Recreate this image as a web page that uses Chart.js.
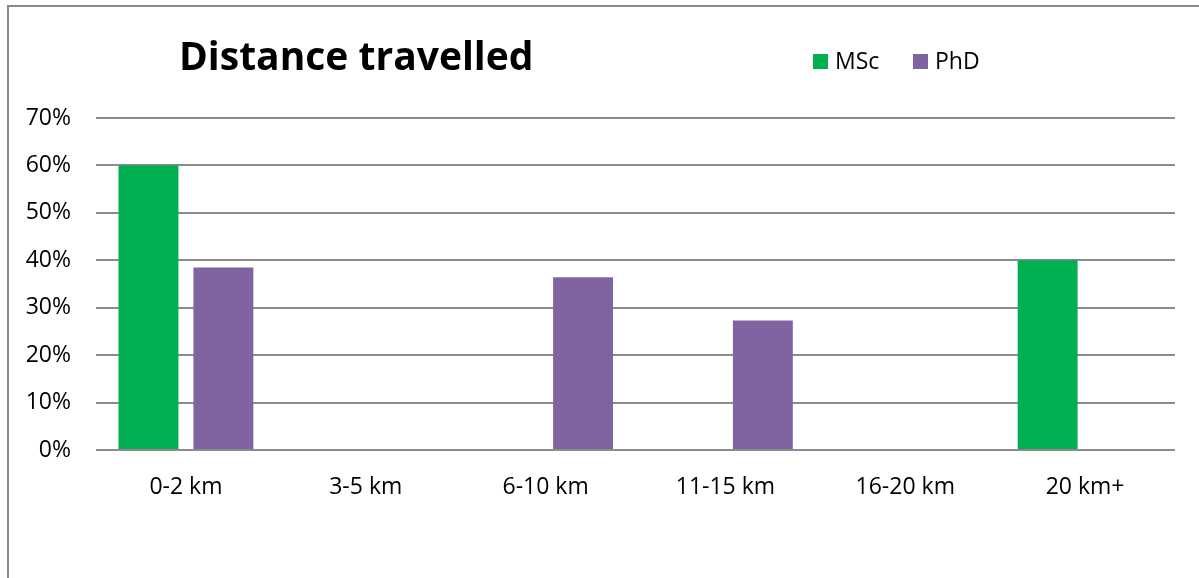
<!DOCTYPE html>
<html>
<head>
<meta charset="utf-8">
<script src="https://cdn.jsdelivr.net/npm/chart.js@4"></script>
<style>
  html, body { margin: 0; padding: 0; background: #fff; overflow: hidden; }
  #frame { position: absolute; left: 7px; top: 5px; width: 1300px; height: 700px;
           border-left: 2px solid #8a8a8a; border-top: 2px solid #8a8a8a; }
  #myChart { position: absolute; left: 0; top: 0; }
</style>
</head>
<body>
<div id="frame"></div>
<canvas id="myChart" width="1199" height="578"></canvas>
<script>
var chartTitle = 'Distance travelled';
var categories = ['0-2 km', '3-5 km', '6-10 km', '11-15 km', '16-20 km', '20 km+'];
var mscValues = [60, 0, 0, 0, 0, 40];
var phdValues = [38.5, 0, 36.4, 27.3, 0, 0];
var yTicks = [0, 10, 20, 30, 40, 50, 60, 70];

var fontFamily = '"Open Sans", "Noto Sans", sans-serif';

// title + legend sit on one row in the original, so draw them by hand
var headerPlugin = {
  id: 'header',
  afterDraw: function(chart) {
    var ctx = chart.ctx;
    ctx.save();
    ctx.fillStyle = '#000';
    ctx.textBaseline = 'middle';
    ctx.font = 'bold 39px ' + fontFamily;
    ctx.fillText(chartTitle, 179, 59);

    ctx.font = '23px ' + fontFamily;
    var legendX = [813, 913];
    chart.data.datasets.forEach(function(ds, i) {
      ctx.fillStyle = ds.backgroundColor;
      ctx.fillRect(legendX[i], 54, 15, 15);
      ctx.fillStyle = '#000';
      ctx.fillText(ds.label, legendX[i] + 22, 62);
    });
    ctx.restore();
  }
};

var ctx = document.getElementById('myChart').getContext('2d');
var chart = new Chart(ctx, {
  type: 'bar',
  data: {
    labels: categories,
    datasets: [{
      label: 'MSc',
      backgroundColor: '#00B050',
      data: mscValues
    }, {
      label: 'PhD',
      backgroundColor: '#8064A2',
      data: phdValues
    }]
  },
  options: {
    responsive: false,
    animation: false,
    categoryPercentage: 0.833,
    barPercentage: 0.8,
    layout: { padding: { left: 0, right: 24, top: 118, bottom: 0 } },
    plugins: {
      legend: { display: false },
      title: { display: false },
      tooltip: { enabled: false }
    },
    scales: {
      x: {
        grid: { display: false },
        border: { display: false },
        ticks: { color: '#000', font: { family: fontFamily, size: 23 }, padding: 16, maxRotation: 0 },
        afterFit: function(scale) { scale.height = 128; }
      },
      y: {
        min: yTicks[0],
        max: yTicks[yTicks.length - 1],
        afterBuildTicks: function(scale) {
          scale.ticks = yTicks.map(function(v) { return { value: v }; });
        },
        grid: { color: '#8c8c8c', lineWidth: 2, drawTicks: false },
        border: { display: false },
        ticks: {
          color: '#000',
          font: { family: fontFamily, size: 23 },
          padding: 25,
          callback: function(v) { return v + '%'; }
        },
        afterFit: function(scale) { scale.width = 96; }
      }
    }
  },
  plugins: [headerPlugin]
});
</script>
</body>
</html>
